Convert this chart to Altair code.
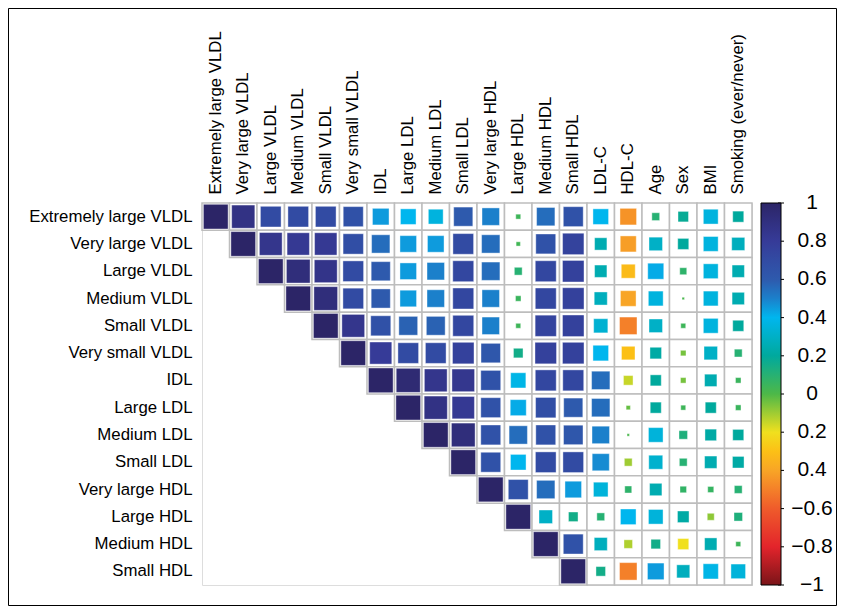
import altair as alt
import pandas as pd

rows = ["Extremely large VLDL", "Very large VLDL", "Large VLDL", "Medium VLDL",
        "Small VLDL", "Very small VLDL", "IDL", "Large LDL", "Medium LDL",
        "Small LDL", "Very large HDL", "Large HDL", "Medium HDL", "Small HDL"]
extra_cols = ["LDL-C", "HDL-C", "Age", "Sex", "BMI", "Smoking (ever/never)"]
cols = rows + extra_cols

# correlations of each row, from its diagonal cell to the last column
r_xl_vldl = [1.00, 0.88, 0.70, 0.70, 0.70, 0.66, 0.45, 0.40, 0.36, 0.60, 0.50, 0.04, 0.55, 0.65, 0.40, -0.45, 0.10, 0.18, 0.36, 0.20]
r_vl_vldl = [1.00, 0.85, 0.82, 0.82, 0.68, 0.55, 0.45, 0.45, 0.70, 0.55, 0.03, 0.65, 0.75, 0.25, -0.42, 0.30, 0.20, 0.36, 0.28]
r_l_vldl = [1.00, 0.92, 0.86, 0.70, 0.60, 0.45, 0.50, 0.72, 0.55, 0.10, 0.72, 0.76, 0.25, -0.32, 0.42, 0.08, 0.36, 0.25]
r_m_vldl = [1.00, 0.92, 0.70, 0.60, 0.45, 0.50, 0.72, 0.50, 0.05, 0.72, 0.76, 0.28, -0.40, 0.36, 0.01, 0.36, 0.25]
r_s_vldl = [1.00, 0.85, 0.66, 0.58, 0.58, 0.72, 0.50, 0.04, 0.74, 0.76, 0.33, -0.50, 0.30, 0.04, 0.36, 0.20]
r_vs_vldl = [1.00, 0.80, 0.70, 0.70, 0.76, 0.62, 0.15, 0.76, 0.76, 0.40, -0.30, 0.22, -0.05, 0.30, 0.10]
r_idl = [1.00, 0.95, 0.85, 0.84, 0.65, 0.38, 0.72, 0.72, 0.55, -0.15, 0.20, -0.05, 0.25, 0.05]
r_l_ldl = [1.00, 0.88, 0.82, 0.65, 0.42, 0.68, 0.60, 0.55, -0.03, 0.20, 0.04, 0.20, 0.05]
r_m_ldl = [1.00, 0.92, 0.65, 0.55, 0.65, 0.62, 0.50, 0.01, 0.35, 0.12, 0.22, 0.20]
r_s_ldl = [1.00, 0.65, 0.40, 0.70, 0.70, 0.48, -0.10, 0.32, 0.10, 0.25, 0.22]
r_vl_hdl = [1.00, 0.65, 0.55, 0.45, 0.35, 0.08, 0.25, 0.07, 0.06, 0.10]
r_l_hdl = [1.00, 0.30, 0.15, 0.10, 0.40, 0.35, 0.22, -0.08, 0.12]
r_m_hdl = [1.00, 0.65, 0.28, -0.12, 0.15, -0.20, 0.25, 0.04]
r_s_hdl = [1.00, 0.15, -0.50, 0.45, 0.28, 0.38, 0.35]

row_values = [r_xl_vldl, r_vl_vldl, r_l_vldl, r_m_vldl, r_s_vldl, r_vs_vldl,
              r_idl, r_l_ldl, r_m_ldl, r_s_ldl, r_vl_hdl, r_l_hdl, r_m_hdl, r_s_hdl]

cb_values = [1, 0.8, 0.6, 0.4, 0.2, 0, -0.2, -0.4, -0.6, -0.8, -1]
cb_labels = ["1", "0.8", "0.6", "0.4", "0.2", "0", "0.2", "0.4", "\u22120.6", "\u22120.8", "\u22121"]
cmap_domain = [-1, -0.8, -0.6, -0.4, -0.3, -0.2, 0, 0.2, 0.4, 0.5, 0.6, 0.8, 1]
cmap_colors = ["#7a1418", "#e3242b", "#ef5b2b", "#f8a526", "#fcc016", "#f0e01e",
               "#4db848", "#00a99d", "#00b6ee", "#1b80cb", "#2e5aad", "#363b98", "#2c2567"]

recs = []
for i, (rname, vals) in enumerate(zip(rows, row_values)):
    for k, v in enumerate(vals):
        recs.append({"row": rname, "col": cols[i + k], "r": v, "absr": abs(v)})
df = pd.DataFrame(recs)

W, H = 550, 382
font = "Liberation Sans"

x_enc = alt.X("col:N", sort=cols, scale=alt.Scale(domain=cols, paddingInner=0, paddingOuter=0),
              axis=alt.Axis(orient="top", title=None, labelAngle=270, labelAlign="left",
                            labelBaseline="middle", labelFontSize=16.8, labelFont=font,
                            labelColor="black", ticks=False, domain=False, labelPadding=9,
                            labelLimit=300))
y_enc = alt.Y("row:N", sort=rows, scale=alt.Scale(domain=rows, paddingInner=0, paddingOuter=0),
              axis=alt.Axis(title=None, labelFontSize=16.8, labelFont=font, labelColor="black",
                            ticks=False, domain=False, labelPadding=10, labelLimit=300))

cells = alt.Chart(df).mark_rect(fill="white", stroke="#bdbdbd", strokeWidth=1.5).encode(
    x=x_enc, y=y_enc)

squares = alt.Chart(df).mark_square(opacity=1, stroke="white", strokeWidth=0.4).encode(
    x=alt.X("col:N", sort=cols),
    y=alt.Y("row:N", sort=rows),
    size=alt.Size("absr:Q", scale=alt.Scale(domain=[0, 1], range=[0, 610]), legend=None),
    color=alt.Color("r:Q",
                    scale=alt.Scale(domain=cmap_domain, range=cmap_colors, interpolate="rgb"),
                    legend=alt.Legend(orient="none", legendX=559, legendY=0, title=None,
                                      direction="vertical", gradientLength=H,
                                      gradientThickness=20, gradientStrokeColor="black",
                                      gradientStrokeWidth=1, values=cb_values,
                                      labelExpr="''", labelFontSize=1, labelOffset=0,
                                      padding=0)),
)

cb_df = pd.DataFrame({"v": cb_values, "label": cb_labels})
cb_scale = alt.Scale(domain=[-1, 1])
ticks = alt.Chart(cb_df).mark_rule(color="black", strokeWidth=1).encode(
    x=alt.value(576), x2=alt.value(582),
    y=alt.Y("v:Q", scale=cb_scale, axis=None))
cb_text = alt.Chart(cb_df).mark_text(
    align="center", baseline="middle", fontSize=21, font=font, color="black").encode(
    x=alt.value(610),
    y=alt.Y("v:Q", scale=cb_scale, axis=None),
    text="label:N")

frame = alt.Chart(pd.DataFrame({"a": [0]})).mark_rect(
    fill=None, stroke="black", strokeWidth=1, clip=False).encode(
    x=alt.value(-193.5), x2=alt.value(634.5), y=alt.value(-194.5), y2=alt.value(402.5))

chart = alt.layer(alt.layer(cells, squares), ticks, cb_text, frame).resolve_scale(
    y="independent").properties(
    width=W, height=H,
    autosize=alt.AutoSizeParams(type="none"),
    padding={"left": 194, "top": 195, "right": 85, "bottom": 21},
).configure_view(stroke=None).configure(background="white")

chart.save("out.html", embed_options={"renderer": "svg", "actions": False})
